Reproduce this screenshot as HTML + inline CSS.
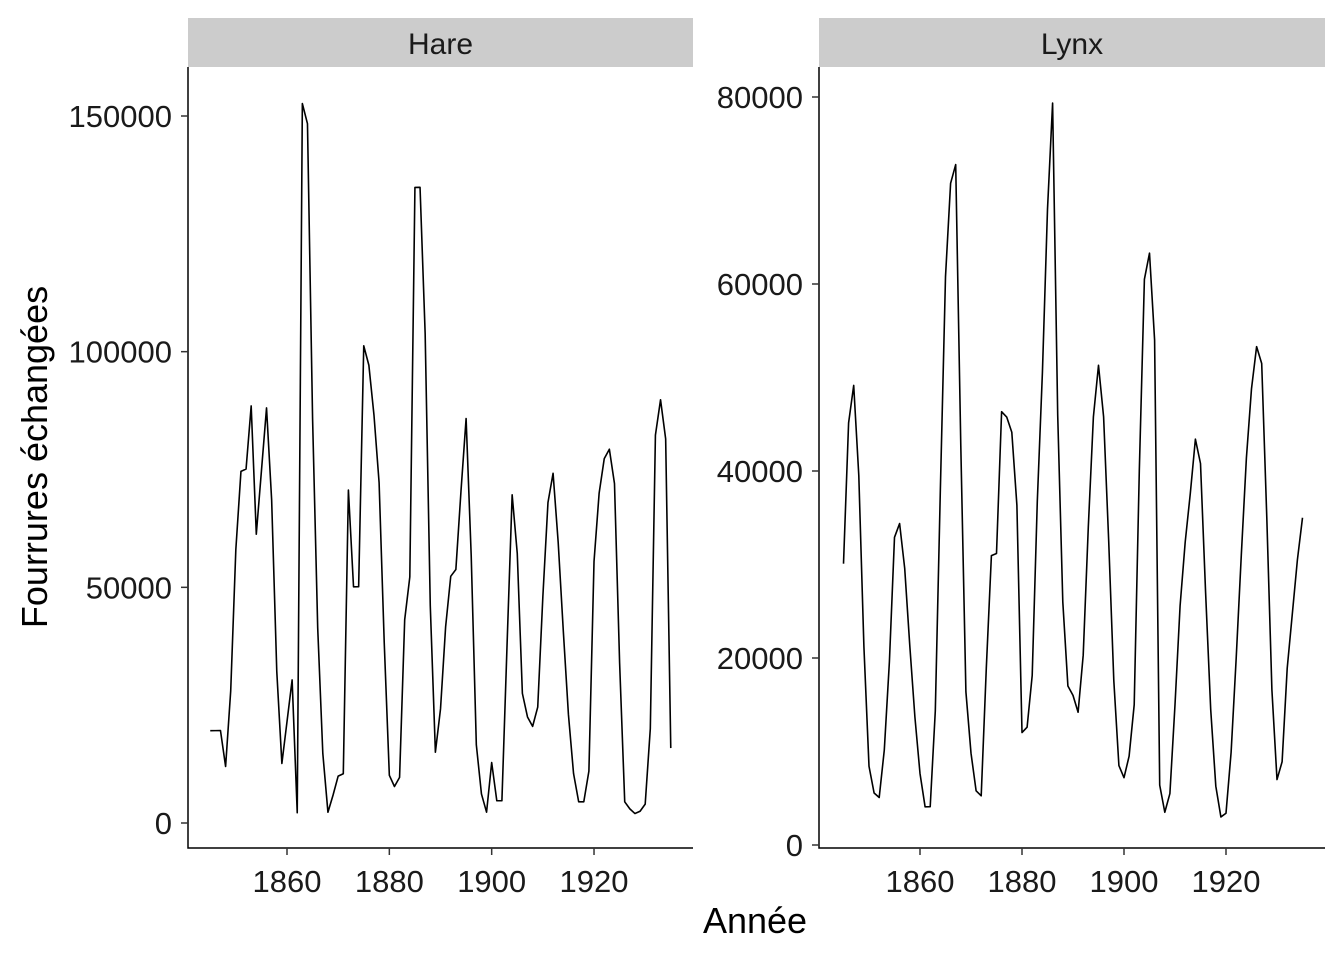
<!DOCTYPE html>
<html><head><meta charset="utf-8">
<style>
html,body{margin:0;padding:0;background:#fff;}
svg{display:block;font-family:"Liberation Sans",Arial,sans-serif;}
</style></head>
<body>
<svg id="chart" width="1344" height="960" viewBox="0 0 1344 960">
  <rect x="0" y="0" width="1344" height="960" fill="#fff"/>
  <g>
    <rect x="188" y="18" width="505" height="49" fill="#cccccc"/>
    <text x="440.5" y="54" font-size="30" text-anchor="middle" fill="#1a1a1a">Hare</text>
  </g>
  <g>
    <rect x="819" y="18" width="506" height="49" fill="#cccccc"/>
    <text x="1072" y="54" font-size="30" text-anchor="middle" fill="#1a1a1a">Lynx</text>
  </g>
  <g id="hare"></g>
  <g id="lynx"></g>
  <text x="755" y="933" font-size="36" text-anchor="middle" fill="#000">Année</text>
  <text transform="translate(47,457) rotate(-90)" font-size="36" text-anchor="middle" fill="#000">Fourrures échangées</text>
</svg>
<script>
const years = [];
for (let y = 1845; y <= 1935; y++) years.push(y);
const hareValues = [19580,19600,19610,11990,28040,58000,74600,75090,88480,61280,74670,88060,68510,32190,12640,21490,30350,2180,152650,148360,85810,41410,14750,2280,5910,9950,10440,70640,50120,50130,101250,97120,86510,72170,38320,10110,7740,9670,43120,52210,134850,134860,103790,46100,15030,24200,41650,52340,53780,70400,85810,56690,16590,6160,2300,12820,4720,4730,37650,69630,57190,27500,22500,20500,24600,48000,68000,74200,59500,40700,23000,10500,4500,4500,11000,55500,70000,77300,79300,72000,34000,4500,3000,2000,2500,4000,20000,82300,89800,81500,15900];
const lynxValues = [30090,45150,49150,39520,21230,8420,5560,5080,10170,19600,32910,34380,29590,21300,13690,7650,4080,4090,14330,38220,60780,70770,72770,42680,16390,9830,5800,5260,18910,30950,31180,46340,45770,44150,36330,12030,12600,18130,36760,50500,68000,79350,46000,26000,17000,16000,14200,20300,34000,45800,51300,45800,32500,17600,8500,7200,9500,15000,40000,60500,63300,54000,6400,3500,5500,15000,25600,32400,37600,43400,40800,27000,14500,6300,3000,3400,9900,20000,31000,41400,48800,53300,51500,35000,16600,7000,8900,18900,24700,30500,35000];
const hareYTicks = [0,50000,100000,150000];
const lynxYTicks = [0,20000,40000,60000,80000];
const xTicks = [1860,1880,1900,1920];

const NS = "http://www.w3.org/2000/svg";
function mk(tag, attrs, parent){
  const e = document.createElementNS(NS, tag);
  for (const k in attrs) e.setAttribute(k, attrs[k]);
  parent.appendChild(e);
  return e;
}
function panel(gid, vals, yTicks, px0, px1, py0, py1, xs, ys, name){
  const g = document.getElementById(gid);
  const path = vals.map((v,i)=>(i?"L":"M")+xs(years[i]).toFixed(2)+","+ys(v).toFixed(2)).join(" ");
  const line = mk("path",{d:path,fill:"none",stroke:"#000","stroke-width":"1.6","stroke-linejoin":"round"},g);
  
  
  const ax = mk("path",{d:`M${px0},${py0} L${px0},${py1} L${px1},${py1}`,fill:"none",stroke:"#000","stroke-width":"1.5"},g);
  
  
  yTicks.forEach(t=>{
    const y = ys(t);
    mk("line",{x1:px0-7,x2:px0,y1:y,y2:y,stroke:"#333","stroke-width":"1.5"},g);
    const tx = mk("text",{x:px0-16,y:y+11,"font-size":"31","text-anchor":"end",fill:"#1a1a1a"},g);
    tx.textContent = t;
    
    
  });
  xTicks.forEach(t=>{
    const x = xs(t);
    mk("line",{x1:x,x2:x,y1:py1,y2:py1+7,stroke:"#333","stroke-width":"1.5"},g);
    const tx = mk("text",{x:x,y:py1+44,"font-size":"31","text-anchor":"middle",fill:"#1a1a1a"},g);
    tx.textContent = t;
    
    
  });
}
panel("hare", hareValues, hareYTicks, 188, 693, 67, 848,
  y => 287 + (y-1860)*5.117, v => 823 - v*0.0047133, "hare");
panel("lynx", lynxValues, lynxYTicks, 819, 1325, 67, 848,
  y => 920 + (y-1860)*5.1, v => 845 - v*0.00935, "lynx");
</script>
</body></html>
